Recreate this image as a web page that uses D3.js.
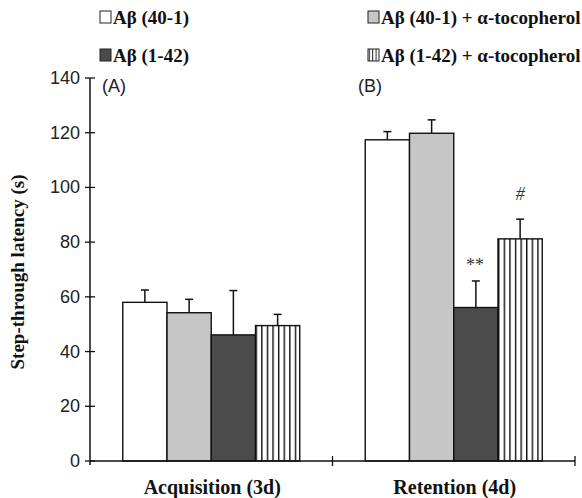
<!DOCTYPE html>
<html lang="en">
    <head>
        <meta charset="utf-8">
        <title>Step-through latency</title>
        <script src="https://d3js.org/d3.v7.min.js"></script>
        <style type="text/css">
            body { margin: 0; background: #fff; }
            .tick-label { font-family: "Liberation Sans", Arial, sans-serif; font-size: 18px; fill: #222; }
            .serif { font-family: "Liberation Serif", "Times New Roman", serif; font-weight: bold; fill: #111; }
        </style>
    </head>
    <body>
        <svg width="582" height="498"></svg>
        <script type="text/javascript">

            // data
            const phases = ["Acquisition (3d)", "Retention (4d)"];
            const panels = ["(A)", "(B)"];
            const groups = ["Aβ (40-1)", "Aβ (40-1) + α-tocopherol", "Aβ (1-42)", "Aβ (1-42) + α-tocopherol"];
            const barOrder = [0, 1, 2, 3];  // white, light gray, dark, striped
            const means = [
                [58.0, 54.2, 46.1, 49.5],
                [117.4, 119.8, 56.1, 81.2]
            ];
            const errors = [
                [4.5, 4.9, 16.2, 4.1],
                [3.0, 4.9, 9.7, 7.2]
            ];
            const signif = [
                ["", "", "", ""],
                ["", "", "**", "#"]
            ];
            const yTicks = [0, 20, 40, 60, 80, 100, 120, 140];

            const svg = d3.select("svg");
            const fills = ["#ffffff", "#c6c6c6", "#4b4b4b", "url(#stripes)"];

            // stripes pattern
            const defs = svg.append("defs");
            const pat = defs.append("pattern")
                .attr("id", "stripes")
                .attr("patternUnits", "userSpaceOnUse")
                .attr("width", 5.6).attr("height", 10)
                .attr("x", 256);
            pat.append("rect").attr("width", 5.6).attr("height", 10).attr("fill", "#fff");
            pat.append("rect").attr("x", 0).attr("width", 1.4).attr("height", 10).attr("fill", "#111");

            const lp = defs.append("pattern")
                .attr("id", "legstripes")
                .attr("patternUnits", "userSpaceOnUse")
                .attr("width", 3.4).attr("height", 10)
                .attr("x", 368);
            lp.append("rect").attr("width", 3.4).attr("height", 10).attr("fill", "#fff");
            lp.append("rect").attr("width", 1).attr("height", 10).attr("fill", "#222");

            const yScale = d3.scaleLinear().domain([0, 140]).range([461, 78]);
            const x0 = d3.scaleBand().domain(phases).range([90, 575]);
            const groupW = 177;
            const x1 = d3.scaleBand().domain(barOrder).range([0, groupW]);
            const groupX = p => x0(p) + (x0.bandwidth() - groupW) / 2;

            // bars
            phases.forEach((p, pi) => {
                const g = svg.append("g").attr("transform", `translate(${groupX(p)},0)`);
                const rows = barOrder.map(i => ({i, m: means[pi][i], e: errors[pi][i], s: signif[pi][i]}));

                // error bars (upward only)
                g.selectAll(".err").data(rows).enter().append("line")
                    .attr("x1", d => x1(d.i) + x1.bandwidth() / 2)
                    .attr("x2", d => x1(d.i) + x1.bandwidth() / 2)
                    .attr("y1", d => yScale(d.m))
                    .attr("y2", d => yScale(d.m + d.e))
                    .attr("stroke", "#111").attr("stroke-width", 1.5);
                g.selectAll(".cap").data(rows).enter().append("line")
                    .attr("x1", d => x1(d.i) + x1.bandwidth() / 2 - 4)
                    .attr("x2", d => x1(d.i) + x1.bandwidth() / 2 + 4)
                    .attr("y1", d => yScale(d.m + d.e))
                    .attr("y2", d => yScale(d.m + d.e))
                    .attr("stroke", "#111").attr("stroke-width", 1.5);

                g.selectAll("rect").data(rows).enter().append("rect")
                    .attr("x", d => x1(d.i))
                    .attr("y", d => yScale(d.m))
                    .attr("width", x1.bandwidth())
                    .attr("height", d => yScale(0) - yScale(d.m))
                    .attr("fill", d => fills[d.i])
                    .attr("stroke", "#111").attr("stroke-width", 1.4);

                g.selectAll(".sig").data(rows.filter(d => d.s)).enter().append("text")
                    .attr("x", d => x1(d.i) + x1.bandwidth() / 2 + (d.s === "#" ? 0 : -1))
                    .attr("y", d => yScale(d.m + d.e) - (d.s === "#" ? 19 : 10))
                    .attr("text-anchor", "middle")
                    .style("font-family", "'Liberation Serif', serif")
                    .style("font-style", d => d.s === "#" ? "italic" : "normal")
                    .style("font-size", "18px")
                    .style("fill", "#333")
                    .text(d => d.s);

                // x label
                svg.append("text").attr("class", "serif")
                    .attr("x", x0(p) + x0.bandwidth() / 2 + 1)
                    .attr("y", 494)
                    .attr("text-anchor", "middle")
                    .style("font-size", "20px")
                    .text(p);

                svg.append("text").attr("class", "tick-label")
                    .attr("x", pi === 0 ? 102 : 358)
                    .attr("y", 92)
                    .text(panels[pi]);
            });

            // y axis
            const yAxis = svg.append("g");
            yAxis.append("line").attr("x1", 90).attr("x2", 90)
                .attr("y1", yScale(0) + 4).attr("y2", yScale(140))
                .attr("stroke", "#111").attr("stroke-width", 1.5);
            yAxis.selectAll(".yt").data(yTicks).enter().append("line")
                .attr("x1", 85).attr("x2", 95)
                .attr("y1", d => yScale(d)).attr("y2", d => yScale(d))
                .attr("stroke", "#111").attr("stroke-width", 1.3);
            yAxis.selectAll(".yl").data(yTicks).enter().append("text")
                .attr("class", "tick-label")
                .attr("x", 80).attr("y", d => yScale(d) + 6)
                .attr("text-anchor", "end")
                .text(d => d);

            // x axis
            svg.append("line").attr("x1", 90).attr("x2", 575)
                .attr("y1", yScale(0)).attr("y2", yScale(0))
                .attr("stroke", "#111").attr("stroke-width", 1.5);
            svg.selectAll(".xt").data(phases).enter().append("line")
                .attr("x1", d => x0(d) + x0.bandwidth()).attr("x2", d => x0(d) + x0.bandwidth())
                .attr("y1", yScale(0) - 5).attr("y2", yScale(0) + 5)
                .attr("stroke", "#111").attr("stroke-width", 1.3);

            // y title
            svg.append("text").attr("class", "serif")
                .attr("transform", "translate(24,272) rotate(-90)")
                .attr("text-anchor", "middle")
                .style("font-size", "19px")
                .text("Step-through latency (s)");

            // legend
            const legPos = [[100, 17], [368, 17], [100, 55], [368, 55]];
            const leg = svg.selectAll(".leg").data(barOrder).enter().append("g")
                .attr("transform", d => `translate(${legPos[d][0]},${legPos[d][1]})`);
            leg.append("rect")
                .attr("x", 0).attr("y", -6).attr("width", 11).attr("height", 12)
                .attr("fill", d => d === 3 ? "url(#legstripes)" : fills[d])
                .attr("stroke", "#222").attr("stroke-width", 1);
            leg.append("text").attr("class", "serif")
                .attr("x", 13).attr("y", 6.5)
                .style("font-size", "19px")
                .text(d => groups[d]);

        </script>
    </body>
</html>
